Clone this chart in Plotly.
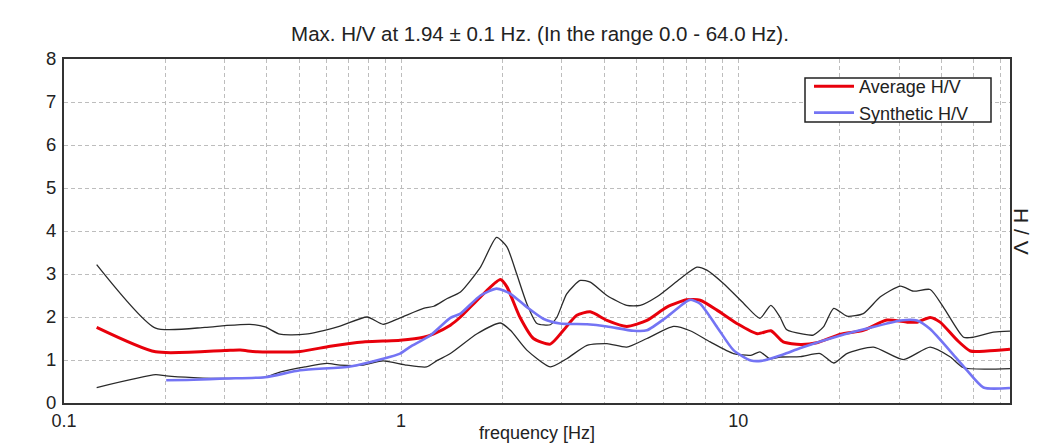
import plotly.graph_objects as go

# ---- data ----
title_text = "Max. H/V at 1.94 ± 0.1 Hz. (In the range 0.0 - 64.0 Hz)."

upper_f = [0.125, 0.187, 0.262, 0.300, 0.356, 0.395, 0.437, 0.519, 0.659, 0.793, 0.884, 0.993,
           1.165, 1.25, 1.37, 1.50, 1.72, 1.92, 2.06, 2.20, 2.36, 2.53, 2.77, 2.90, 3.10, 3.40,
           3.64, 4.08, 4.67, 5.12, 5.74, 6.73, 7.54, 8.07, 9.04, 10.4, 11.6, 12.5, 13.3, 13.9,
           15.6, 16.7, 17.9, 19.2, 21.0, 23.5, 26.4, 30.3, 33.1, 37.1, 40.6, 46.6, 49.9, 57.2, 64.0]
upper_v = [3.22, 1.74, 1.76, 1.80, 1.83, 1.77, 1.60, 1.60, 1.79, 2.00, 1.83, 1.98,
           2.20, 2.25, 2.43, 2.58, 3.16, 3.85, 3.63, 3.01, 2.31, 1.85, 1.82, 2.00, 2.54, 2.85,
           2.81, 2.50, 2.27, 2.27, 2.47, 2.89, 3.16, 3.09, 2.78, 2.31, 1.97, 2.27, 2.00, 1.71,
           1.60, 1.58, 1.77, 2.20, 2.02, 2.08, 2.47, 2.72, 2.60, 2.64, 2.23, 1.53, 1.53, 1.65, 1.67]

lower_f = [0.125, 0.187, 0.201, 0.242, 0.300, 0.395, 0.437, 0.519, 0.603, 0.659, 0.771, 0.884,
           1.04, 1.19, 1.28, 1.40, 1.68, 1.97, 2.11, 2.36, 2.77, 3.10, 3.56, 4.08, 4.67, 5.36,
           6.43, 7.20, 8.26, 9.68, 10.9, 11.6, 12.4, 13.3, 15.3, 17.5, 19.2, 21.0, 25.2, 30.9,
           37.1, 42.6, 46.6, 64.0]
lower_v = [0.36, 0.66, 0.63, 0.59, 0.57, 0.60, 0.72, 0.84, 0.92, 0.88, 0.88, 0.98,
           0.88, 0.84, 0.99, 1.15, 1.61, 1.86, 1.69, 1.23, 0.84, 1.03, 1.34, 1.38, 1.30, 1.50,
           1.78, 1.68, 1.42, 1.15, 1.11, 1.19, 1.03, 1.07, 1.08, 1.15, 0.93, 1.15, 1.30, 1.01,
           1.30, 1.07, 0.82, 0.80]

avg_f = [0.125, 0.187, 0.300, 0.333, 0.374, 0.502, 0.616, 0.771, 0.884, 0.993, 1.165, 1.25,
         1.40, 1.50, 1.72, 1.97, 2.06, 2.25, 2.47, 2.77, 3.03, 3.32, 3.64, 4.08, 4.67, 5.36,
         6.14, 7.04, 7.71, 8.65, 9.91, 11.4, 12.5, 13.6, 15.3, 17.1, 20.1, 23.5, 27.6, 31.7,
         33.9, 37.1, 39.7, 44.6, 48.8, 54.7, 64.0]
avg_v = [1.76, 1.19, 1.22, 1.23, 1.19, 1.20, 1.32, 1.42, 1.44, 1.46, 1.53, 1.61,
         1.81, 2.00, 2.47, 2.87, 2.70, 2.00, 1.50, 1.37, 1.69, 2.04, 2.12, 1.92, 1.78, 1.92,
         2.23, 2.40, 2.39, 2.16, 1.85, 1.61, 1.68, 1.42, 1.36, 1.40, 1.60, 1.69, 1.93, 1.88,
         1.88, 1.99, 1.88, 1.46, 1.21, 1.21, 1.25]

syn_f = [0.201, 0.242, 0.300, 0.395, 0.502, 0.706, 0.884, 0.993, 1.06, 1.22, 1.40, 1.50,
         1.72, 1.92, 2.11, 2.36, 2.64, 2.96, 3.56, 4.08, 4.89, 5.36, 6.14, 6.88, 7.20, 7.71,
         8.65, 9.68, 10.9, 11.7, 13.6, 15.3, 20.1, 24.1, 30.3, 33.9, 37.1, 43.5, 47.7, 53.4, 64.0]
syn_v = [0.53, 0.54, 0.57, 0.60, 0.76, 0.85, 1.03, 1.15, 1.30, 1.57, 1.98, 2.08,
         2.50, 2.66, 2.54, 2.23, 1.96, 1.85, 1.83, 1.78, 1.68, 1.69, 2.00, 2.31, 2.40, 2.31,
         1.77, 1.23, 0.99, 0.98, 1.13, 1.28, 1.57, 1.73, 1.92, 1.92, 1.72, 1.12, 0.76, 0.36, 0.35]

x_major = [0.1, 1, 10]
x_major_text = ["0.1", "1", "10"]
x_minor = [0.2, 0.3, 0.4, 0.5, 0.6, 0.7, 0.8, 0.9, 2, 3, 4, 5, 6, 7, 8, 9, 20, 30, 40, 50, 60]
y_ticks = [0, 1, 2, 3, 4, 5, 6, 7, 8]

FONT = "Arial, Liberation Sans, sans-serif"
GRID = "#bdbdbd"
GDASH = "4px,3px"
TXT = "#222222"

# plot area in pixels: x 64..1010, y 59..403
PW, PH = 946, 344
def px(x):
    return (x - 64) / PW
def py(y):
    return (403 - y) / PH

fig = go.Figure()
fig.add_trace(go.Scatter(x=upper_f, y=upper_v, mode="lines", showlegend=False,
                         line=dict(color="#2a2a2a", width=1.3, shape="spline", smoothing=0.6)))
fig.add_trace(go.Scatter(x=lower_f, y=lower_v, mode="lines", showlegend=False,
                         line=dict(color="#2a2a2a", width=1.3, shape="spline", smoothing=0.6)))
fig.add_trace(go.Scatter(x=avg_f, y=avg_v, mode="lines", name="Average H/V",
                         line=dict(color="#e8000b", width=3, shape="spline", smoothing=0.6)))
fig.add_trace(go.Scatter(x=syn_f, y=syn_v, mode="lines", name="Synthetic H/V",
                         line=dict(color="#7474f4", width=2.6, shape="spline", smoothing=0.6)))

fig.update_layout(
    width=1062, height=445,
    margin=dict(l=64, r=52, t=59, b=42),
    paper_bgcolor="white", plot_bgcolor="white",
    font=dict(family=FONT, size=18, color=TXT),
    title=dict(text=title_text, x=540 / 1062, xanchor="center",
               y=1 - 34 / 445, yanchor="middle", font=dict(size=20.5, color=TXT)),
    showlegend=True,
    legend=dict(x=px(809), y=py(68), xanchor="left", yanchor="top",
                bgcolor="rgba(0,0,0,0)", borderwidth=0,
                font=dict(size=18, color=TXT), tracegroupgap=0, itemwidth=40),
    shapes=[dict(type="rect", xref="paper", yref="paper",
                 x0=px(805), x1=px(991), y0=py(122), y1=py(78),
                 line=dict(color=TXT, width=1.5), fillcolor="white", layer="above")],
    xaxis=dict(type="log", range=[-1, 1.8062], tickvals=x_major, ticktext=x_major_text,
               showgrid=True, gridcolor=GRID, griddash=GDASH, gridwidth=1,
               minor=dict(tickvals=x_minor, showgrid=True, gridcolor=GRID, griddash=GDASH,
                          gridwidth=1, ticks=""),
               showline=True, mirror=True, linecolor="#333333", linewidth=2,
               ticks="", zeroline=False, ticklabelstandoff=0,
               tickfont=dict(size=18, color=TXT)),
    yaxis=dict(range=[0, 8], tickvals=y_ticks, showgrid=True, gridcolor=GRID, griddash=GDASH,
               gridwidth=1, showline=True, mirror=True, linecolor="#333333", linewidth=2,
               ticks="", zeroline=False, ticklabelstandoff=2,
               tickfont=dict(size=18.5, color=TXT)),
    annotations=[
        dict(text="frequency [Hz]", xref="paper", yref="paper", x=px(537), y=0,
             xanchor="center", yanchor="middle", yshift=-30, showarrow=False,
             font=dict(size=18, color=TXT)),
        dict(text="H / V", xref="paper", yref="paper", x=px(1022), y=py(232),
             xanchor="center", yanchor="middle", textangle=90, showarrow=False,
             font=dict(size=21, color=TXT)),
    ],
)

fig.write_html("out.html", config={"displayModeBar": False},
               post_script="document.body.style.margin='0';document.body.style.padding='0';")
